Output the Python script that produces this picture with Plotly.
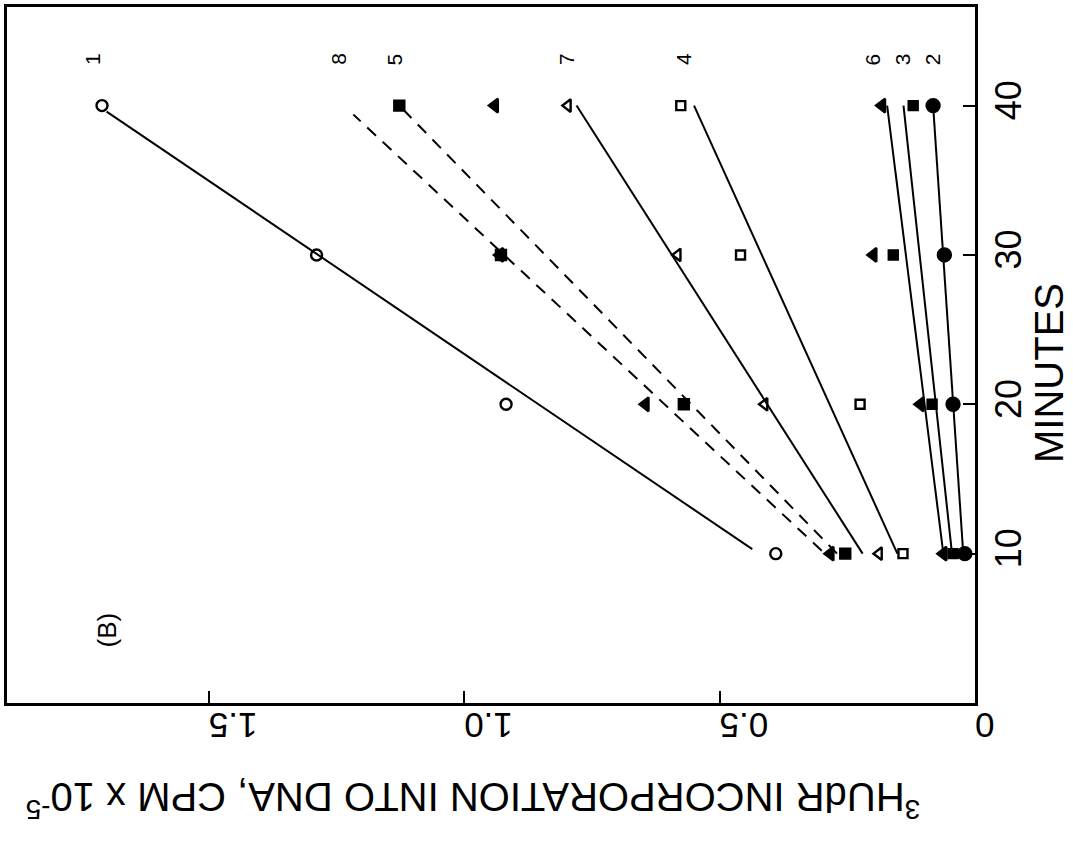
import plotly.graph_objects as go

# ---- data ----
minutes = [10, 20, 30, 40]
series_names = ["1", "2", "3", "4", "5", "6", "7", "8"]
s1 = [0.39, 0.918, 1.289, 1.709]    # open circle
s2 = [0.020, 0.043, 0.060, 0.082]   # filled circle
s3 = [0.043, 0.084, 0.160, 0.121]   # filled square
s4 = [0.141, 0.225, 0.459, 0.576]   # open square
s5 = [0.254, 0.570, 0.928, 1.127]   # filled square (dashed fit)
s6 = [0.062, 0.107, 0.199, 0.182]   # filled triangle
s7 = [0.188, 0.412, 0.582, 0.797]   # open triangle
s8 = [0.283, 0.645, 0.930, 0.940]   # filled triangle (dashed fit)

# fitted lines: start/end minute and value for each series 1..8
fit_t0 = [10.3, 10, 10, 10, 10, 10, 10, 10.2]
fit_v0 = [0.436, 0.023, 0.045, 0.152, 0.27, 0.062, 0.22, 0.30]
fit_t1 = [39.6, 40, 40, 40, 40, 40, 40, 39.4]
fit_v1 = [1.70, 0.082, 0.14, 0.55, 1.127, 0.172, 0.78, 1.217]
fit_dash = ["solid", "solid", "solid", "solid", "dash", "solid", "solid", "dash"]

# label positions for series numbers
label_val = [1.729, 0.084, 0.143, 0.572, 1.137, 0.201, 0.801, 1.246]
label_min = 43.1

x_ticks = [0, 0.5, 1.0, 1.5]
x_ticktext = ["0", "0.5", "1.0", "1.5"]
y_ticks = [10, 20, 30, 40]
y_ticktext = ["10", "20", "30", "40"]

values = [s1, s2, s3, s4, s5, s6, s7, s8]
symbols = ["circle-open", "circle", "square", "square-open", "square",
           "triangle-left", "triangle-left-open", "triangle-left"]
sizes = [11, 13, 9, 9, 10, 12, 11, 12]

fig = go.Figure()

for i in range(8):
    fig.add_trace(go.Scatter(
        x=[fit_v0[i], fit_v1[i]], y=[fit_t0[i], fit_t1[i]],
        mode="lines", line=dict(color="black", width=2, dash="12px,9px" if fit_dash[i] == "dash" else "solid"),
        showlegend=False, hoverinfo="skip"))

for i in range(8):
    fig.add_trace(go.Scatter(
        x=values[i], y=minutes, mode="markers", name=series_names[i],
        marker=dict(symbol=symbols[i], size=sizes[i], color="black",
                    line=dict(color="black", width=2.4)),
        showlegend=False))

FONT = "Liberation Sans"

for i in range(8):
    fig.add_annotation(x=label_val[i], y=label_min, text=series_names[i],
                       showarrow=False, textangle=-90,
                       xanchor="center", yanchor="middle",
                       font=dict(family=FONT, size=21, color="black"))

fig.add_annotation(x=1.70, y=4.9, text="(B)", showarrow=False, textangle=-90,
                   xanchor="center", yanchor="middle",
                   font=dict(family=FONT, size=26, color="black"))

fig.add_annotation(xref="paper", yref="paper", x=0.481, y=-0.139,
                   text="<sup>3</sup>HUdR INCORPORATION INTO DNA, CPM x 10<sup>-5</sup>",
                   showarrow=False, textangle=180,
                   xanchor="center", yanchor="middle",
                   font=dict(family=FONT, size=40, color="black"))

fig.add_annotation(xref="paper", yref="paper", x=1.077, y=0.4735,
                   text="MINUTES", showarrow=False, textangle=-90,
                   xanchor="center", yanchor="middle",
                   font=dict(family=FONT, size=40, color="black"))

fig.update_xaxes(range=[1.895, 0], tickvals=x_ticks, ticktext=x_ticktext,
                 tickangle=180, ticks="inside", ticklen=12, tickwidth=2,
                 tickcolor="black", showgrid=False, zeroline=False,
                 showline=True, linecolor="black", linewidth=2.5, mirror=True,
                 tickfont=dict(family=FONT, size=35, color="black"))
fig.update_yaxes(range=[0, 46.6], tickvals=y_ticks, ticktext=y_ticktext,
                 side="right", tickangle=-90, ticks="inside", ticklen=12,
                 tickwidth=2, tickcolor="black", showgrid=False, zeroline=False,
                 showline=True, linecolor="black", linewidth=2.5, mirror=True,
                 tickfont=dict(family=FONT, size=36, color="black"))

fig.update_layout(width=1073, height=844,
                  margin=dict(l=5, r=98, t=4, b=141),
                  plot_bgcolor="white", paper_bgcolor="white")

fig.write_html("out.html")
